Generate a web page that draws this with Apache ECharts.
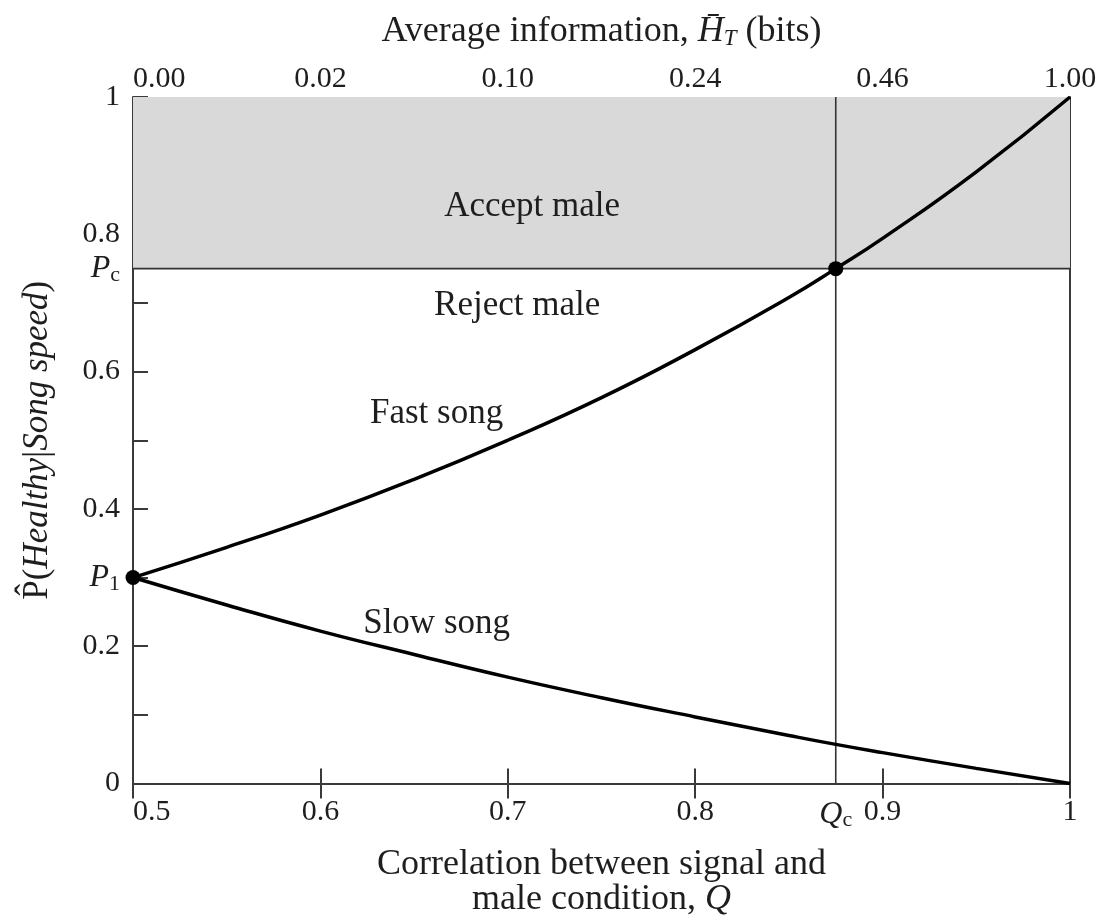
<!DOCTYPE html>
<html>
<head>
<meta charset="utf-8">
<script src="https://cdn.jsdelivr.net/npm/echarts@6/dist/echarts.min.js"></script>
<style>
  html, body { margin: 0; padding: 0; background: #fff; }
  #Echart { width: 1101px; height: 923px; }
</style>
</head>
<body>
<div id="Echart"></div>
<script>
// correlation Q (x) and posterior P(Healthy|song)
var qValues = [0.5, 0.55, 0.6, 0.65, 0.7, 0.75, 0.8, 0.85, 0.875, 0.9, 0.95, 1.0];
var fastSong = [0.30, 0.344, 0.391, 0.443, 0.50, 0.562, 0.632, 0.708, 0.75, 0.794, 0.891, 1.0];
var slowSong = [0.30, 0.26, 0.222, 0.188, 0.155, 0.125, 0.097, 0.070, 0.057, 0.045, 0.022, 0.0];
// top axis: average information in bits at Q = 0.5 ... 1.0
var topLabels = ['0.00', '0.02', '0.10', '0.24', '0.46', '1.00'];
var bottomLabelValues = [0.5, 0.6, 0.7, 0.8, 0.875, 0.9, 1];
var leftLabelValues = [0, 0.2, 0.3, 0.4, 0.6, 0.75, 0.8, 1];
// critical values
var Qc = 0.875;
var Pc = 0.75;
var P1 = 0.30;
// in-plot text labels [x, y, text]
var regionTexts = [
  [0.713, 0.84, 'Accept male'],
  [0.705, 0.696, 'Reject male'],
  [0.662, 0.539, 'Fast song'],
  [0.662, 0.232, 'Slow song']
];

var FONT = '"Liberation Serif", serif';
var ink = '#1e1e1e';
var axisInk = '#3a3a3a';
var TXT = 35;   // words in the plot
var TTL = 36;   // axis titles
var NUM = 30;   // tick numbers

function zip(xs, ys) {
  var out = [];
  for (var i = 0; i < xs.length; i++) out.push([xs[i], ys[i]]);
  return out;
}

var myChart = echarts.init(document.getElementById('Echart'));

var option = {
  backgroundColor: '#fff',
  animation: false,
  textStyle: { fontFamily: FONT, color: ink },
  grid: { left: 133, right: 31, top: 97, bottom: 134, containLabel: false },
  xAxis: [
    {
      type: 'value', position: 'bottom', min: 0.5, max: 1, interval: 0.1,
      name: 'Correlation between signal and\nmale condition, {i|Q}',
      nameLocation: 'middle', nameGap: 64,
      nameTextStyle: {
        fontFamily: FONT, fontSize: TTL, color: ink, lineHeight: 35,
        rich: { i: { fontFamily: FONT, fontStyle: 'italic', fontSize: TTL, color: ink, lineHeight: 35 } }
      },
      axisLine: { lineStyle: { color: axisInk, width: 2 } },
      axisTick: { inside: true, length: 15, lineStyle: { color: axisInk, width: 2 } },
      splitLine: { show: false },
      axisLabel: {
        customValues: bottomLabelValues,
        alignMinLabel: 'left',
        margin: 14, fontSize: NUM, color: ink, fontFamily: FONT,
        formatter: function (v) {
          if (Math.abs(v - Qc) < 1e-6) return '{i|Q}{s|c}';
          if (v === 1) return '1';
          return String(Math.round(v * 10) / 10);
        },
        rich: {
          i: { fontFamily: FONT, fontStyle: 'italic', fontSize: NUM + 2, color: ink },
          s: { fontFamily: FONT, fontSize: 22, color: ink, padding: [12, 0, 0, 0] }
        }
      }
    },
    {
      type: 'value', position: 'top', min: 0.5, max: 1, interval: 0.1,
      name: 'Average information, {i|H\u0304}{s|T} (bits)',
      nameLocation: 'middle', nameGap: 47,
      nameTextStyle: {
        fontFamily: FONT, fontSize: TTL, color: ink,
        rich: {
          i: { fontFamily: FONT, fontStyle: 'italic', fontSize: TTL, color: ink },
          s: { fontFamily: FONT, fontStyle: 'italic', fontSize: 23, color: ink, padding: [14, 0, 0, 0] }
        }
      },
      axisLine: { lineStyle: { color: axisInk, width: 2 } },
      axisTick: { inside: true, length: 15, lineStyle: { color: axisInk, width: 2 } },
      splitLine: { show: false },
      axisLabel: {
        alignMinLabel: 'left',
        margin: 3, fontSize: NUM, color: ink, fontFamily: FONT,
        formatter: function (v) {
          return topLabels[Math.round((v - 0.5) * 10)];
        }
      }
    }
  ],
  yAxis: [
    {
      type: 'value', position: 'left', min: 0, max: 1, interval: 0.1,
      name: '{h|P\u0302}({i|Healthy}|{i|Song speed})',
      nameLocation: 'middle', nameGap: 78, nameRotate: 90,
      nameTextStyle: {
        fontFamily: FONT, fontSize: TXT, color: ink,
        rich: {
          h: { fontFamily: FONT, fontSize: TXT, color: ink },
          i: { fontFamily: FONT, fontStyle: 'italic', fontSize: TXT, color: ink }
        }
      },
      axisLine: { show: true, lineStyle: { color: axisInk, width: 2 } },
      axisTick: { show: true, inside: true, length: 15, lineStyle: { color: axisInk, width: 2 } },
      splitLine: { show: false },
      axisLabel: {
        customValues: leftLabelValues,
        margin: 13, fontSize: NUM, color: ink, fontFamily: FONT,
        formatter: function (v) {
          if (Math.abs(v - Pc) < 1e-6) return '{i|P}{s|c}';
          if (Math.abs(v - P1) < 1e-6) return '{i|P}{s|1}';
          if (v === 0 || v === 1) return String(v);
          return String(Math.round(v * 10) / 10);
        },
        rich: {
          i: { fontFamily: FONT, fontStyle: 'italic', fontSize: NUM + 2, color: ink },
          s: { fontFamily: FONT, fontSize: 22, color: ink, padding: [14, 0, 0, 0] }
        }
      }
    },
    {
      type: 'value', position: 'right', min: 0, max: 1,
      axisLine: { show: true, lineStyle: { color: axisInk, width: 2 } },
      axisTick: { show: false }, axisLabel: { show: false }, splitLine: { show: false }
    }
  ],
  series: [
    {
      name: 'accept', type: 'line', data: [], silent: true,
      markArea: {
        silent: true,
        itemStyle: { color: '#d9d9d9' },
        data: [[{ yAxis: Pc, xAxis: 0.5 }, { yAxis: 1, xAxis: 1 }]]
      }
    },
    {
      name: 'Pc line', type: 'line', showSymbol: false, silent: true,
      data: [[0.5, Pc], [1, Pc]],
      lineStyle: { color: '#333', width: 1.6 }, z: 3
    },
    {
      name: 'Qc line', type: 'line', showSymbol: false, silent: true,
      data: [[Qc, 0], [Qc, 1]],
      lineStyle: { color: '#333', width: 1.6 }, z: 3
    },
    {
      name: 'Fast song', type: 'line', smooth: true, showSymbol: false,
      data: zip(qValues, fastSong),
      lineStyle: { color: '#000', width: 3.5 }, z: 5
    },
    {
      name: 'Slow song', type: 'line', smooth: true, showSymbol: false,
      data: zip(qValues, slowSong),
      lineStyle: { color: '#000', width: 3.5 }, z: 5
    },
    {
      name: 'points', type: 'scatter', symbolSize: 15,
      itemStyle: { color: '#000', opacity: 1 },
      data: [[0.5, P1], [Qc, Pc]], z: 6
    },
    {
      name: 'labels', type: 'scatter', symbolSize: 0,
      itemStyle: { opacity: 1 },
      data: regionTexts.map(function (t) { return { value: [t[0], t[1]], name: t[2] }; }),
      label: {
        show: true, position: 'inside', fontFamily: FONT, fontSize: TXT, color: ink, opacity: 1,
        formatter: function (p) { return p.name; }
      },
      z: 7
    }
  ]
};

myChart.setOption(option);
</script>
</body>
</html>
